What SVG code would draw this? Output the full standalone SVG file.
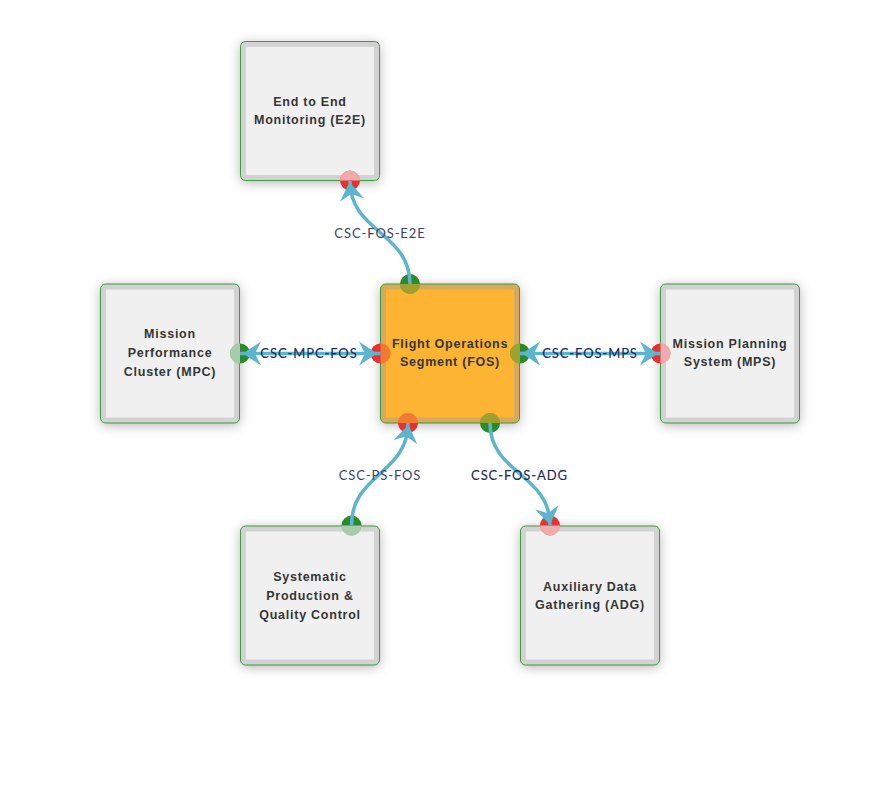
<svg xmlns="http://www.w3.org/2000/svg" xmlns:xlink="http://www.w3.org/1999/xlink" width="890" height="800" viewBox="0 0 890 800">
  <style>
    .shade { fill: #ffffff; filter: url(#shadow); }
    .frame { fill: #d2d2d2; stroke: #3d9b3d; stroke-width: 1; }
    .inner { fill: #f0f0f0; }
    .frame-fos { fill: #d6aa5a; stroke: #3d9b3d; stroke-width: 1; }
    .inner-fos { fill: #fdb433; }
    .title { font-family: "Liberation Sans", Arial, sans-serif; font-weight: bold; font-size: 12.5px; fill: #363636; text-anchor: middle; letter-spacing: 0.75px; }
    .src { fill: #2b8a2b; }
    .dst { fill: #e53232; }
    .veil { fill: rgba(245,245,245,0.62); }
    .veil-fos { fill: rgba(253,180,51,0.55); }
    .edge { fill: none; stroke: #5db4cf; stroke-width: 3.5; }
    .head { fill: #5db4cf; }
    .lbl { font-family: Lato, "Liberation Sans", sans-serif; font-size: 13px; fill: #3a4170; text-anchor: middle; letter-spacing: 0.9px; }
    .lbl-strong { fill: #20275a; stroke: #20275a; stroke-width: 0.12px; }
  </style>
  <defs>
    <filter id="shadow" x="-20%" y="-20%" width="140%" height="140%">
      <feDropShadow dx="0" dy="2" stdDeviation="6" flood-color="#000000" flood-opacity="0.3"/>
    </filter>
    <path id="arrow" d="M0,0 L-18,-12 L-12,0 L-18,12 Z"/>
    <!-- port dot: full disc, and the half lying inside the node (pointing up before rotation) -->
    <circle id="dot" r="10"/>
    <path id="half" d="M-10,0 A10,10 0 0 1 10,0 Z"/>
  </defs>

  <!-- nodes: shadow, frame, inner panel, title, port dots -->
  <g id="node-e2e">
    <rect class="shade" x="240.5" y="41.5" width="139" height="139" rx="5"/>
    <rect class="frame" x="240.5" y="41.5" width="139" height="139" rx="5"/>
    <rect class="inner" x="246" y="47" width="128" height="128"/>
    <text class="title"><tspan x="310" y="105.5">End to End</tspan><tspan x="310" y="124">Monitoring (E2E)</tspan></text>
    <use xlink:href="#dot" class="dst" transform="translate(350,180.5)"/>
    <use xlink:href="#half" class="veil" transform="translate(350,180.5)"/>
  </g>

  <g id="node-mpc">
    <rect class="shade" x="100.5" y="284" width="139" height="139" rx="5"/>
    <rect class="frame" x="100.5" y="284" width="139" height="139" rx="5"/>
    <rect class="inner" x="106" y="289.5" width="128" height="128"/>
    <text class="title"><tspan x="170" y="338.3">Mission</tspan><tspan x="170" y="357">Performance</tspan><tspan x="170" y="375.7">Cluster (MPC)</tspan></text>
    <use xlink:href="#dot" class="src" transform="translate(240,353.5)"/>
    <use xlink:href="#half" class="veil" transform="translate(240,353.5) rotate(-90)"/>
  </g>

  <g id="node-fos">
    <rect class="shade" x="380.5" y="284" width="139" height="139" rx="5"/>
    <rect class="frame-fos" x="380.5" y="284" width="139" height="139" rx="5"/>
    <rect class="inner-fos" x="386" y="289.5" width="128" height="128"/>
    <text class="title"><tspan x="450" y="348">Flight Operations</tspan><tspan x="450" y="366.3">Segment (FOS)</tspan></text>
    <use xlink:href="#dot" class="src" transform="translate(410,284)"/>
    <use xlink:href="#half" class="veil-fos" transform="translate(410,284) rotate(180)"/>
    <use xlink:href="#dot" class="dst" transform="translate(380.5,353.5)"/>
    <use xlink:href="#half" class="veil-fos" transform="translate(380.5,353.5) rotate(90)"/>
    <use xlink:href="#dot" class="src" transform="translate(520,353.5)"/>
    <use xlink:href="#half" class="veil-fos" transform="translate(520,353.5) rotate(-90)"/>
    <use xlink:href="#dot" class="dst" transform="translate(408,423)"/>
    <use xlink:href="#half" class="veil-fos" transform="translate(408,423)"/>
    <use xlink:href="#dot" class="src" transform="translate(490,423)"/>
    <use xlink:href="#half" class="veil-fos" transform="translate(490,423)"/>
  </g>

  <g id="node-mps">
    <rect class="shade" x="660.5" y="284" width="139" height="139" rx="5"/>
    <rect class="frame" x="660.5" y="284" width="139" height="139" rx="5"/>
    <rect class="inner" x="666" y="289.5" width="128" height="128"/>
    <text class="title"><tspan x="730" y="348">Mission Planning</tspan><tspan x="730" y="366.3">System (MPS)</tspan></text>
    <use xlink:href="#dot" class="dst" transform="translate(660.5,353.5)"/>
    <use xlink:href="#half" class="veil" transform="translate(660.5,353.5) rotate(90)"/>
  </g>

  <g id="node-spqc">
    <rect class="shade" x="240.5" y="526" width="139" height="139" rx="5"/>
    <rect class="frame" x="240.5" y="526" width="139" height="139" rx="5"/>
    <rect class="inner" x="246" y="531.5" width="128" height="128"/>
    <text class="title"><tspan x="310" y="581.3">Systematic</tspan><tspan x="310" y="600">Production &amp;</tspan><tspan x="310" y="618.7">Quality Control</tspan></text>
    <use xlink:href="#dot" class="src" transform="translate(351.5,525.5)"/>
    <use xlink:href="#half" class="veil" transform="translate(351.5,525.5) rotate(180)"/>
  </g>

  <g id="node-adg">
    <rect class="shade" x="520.5" y="526" width="139" height="139" rx="5"/>
    <rect class="frame" x="520.5" y="526" width="139" height="139" rx="5"/>
    <rect class="inner" x="526" y="531.5" width="128" height="128"/>
    <text class="title"><tspan x="590" y="590.7">Auxiliary Data</tspan><tspan x="590" y="609.3">Gathering (ADG)</tspan></text>
    <use xlink:href="#dot" class="dst" transform="translate(550,525.5)"/>
    <use xlink:href="#half" class="veil" transform="translate(550,525.5) rotate(180)"/>
  </g>

  <!-- connectors -->
  <g id="connectors">
    <g id="csc-fos-e2e">
      <path class="edge" d="M410,284 C410,232.25 350,232.25 350,181"/>
      <use xlink:href="#arrow" class="head" transform="translate(349.5,182) rotate(-98)"/>
      <text class="lbl" x="380" y="237.5">CSC-FOS-E2E</text>
    </g>
    <g id="csc-mpc-fos">
      <path class="edge" d="M240,353.5 L380.5,353.5"/>
      <use xlink:href="#arrow" class="head" transform="translate(377,353.5)"/>
      <use xlink:href="#arrow" class="head" transform="translate(243,353.5) rotate(180)"/>
      <text class="lbl lbl-strong" x="309" y="358">CSC-MPC-FOS</text>
    </g>
    <g id="csc-fos-mps">
      <path class="edge" d="M520,353.5 L660.5,353.5"/>
      <use xlink:href="#arrow" class="head" transform="translate(658,353.5)"/>
      <use xlink:href="#arrow" class="head" transform="translate(522,353.5) rotate(180)"/>
      <text class="lbl lbl-strong" x="590" y="358">CSC-FOS-MPS</text>
    </g>
    <g id="csc-ps-fos">
      <path class="edge" d="M351.5,525 C351.5,474 408,474 408,423"/>
      <use xlink:href="#arrow" class="head" transform="translate(408.5,424.5) rotate(-80)"/>
      <text class="lbl" x="380" y="480">CSC-PS-FOS</text>
    </g>
    <g id="csc-fos-adg">
      <path class="edge" d="M490,423 C490,474 550,474 550,525"/>
      <use xlink:href="#arrow" class="head" transform="translate(550,525) rotate(80)"/>
      <text class="lbl lbl-strong" x="519.5" y="480">CSC-FOS-ADG</text>
    </g>
  </g>
</svg>
